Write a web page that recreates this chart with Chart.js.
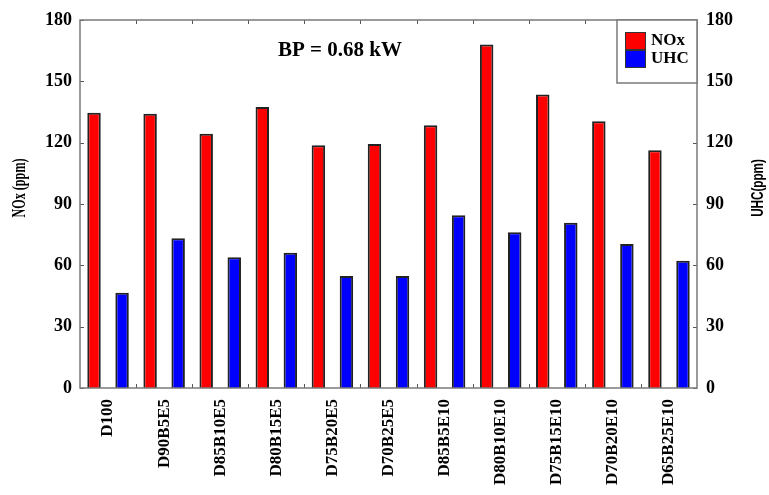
<!DOCTYPE html>
<html>
<head>
<meta charset="utf-8">
<script src="https://cdn.jsdelivr.net/npm/chart.js@4/dist/chart.umd.min.js"></script>
<style>
  html, body { margin: 0; padding: 0; background: #ffffff; }
  #wrap { width: 769px; height: 495px; }
</style>
</head>
<body>
<div id="wrap"><canvas id="c" width="769" height="495"></canvas></div>
<script>
// Fuel blends
const categories = ['D100', 'D90B5E5', 'D85B10E5', 'D80B15E5', 'D75B20E5', 'D70B25E5',
                    'D85B5E10', 'D80B10E10', 'D75B15E10', 'D70B20E10', 'D65B25E10'];
// Emissions at BP = 0.68 kW (ppm)
const noxValues = [134.6, 134.2, 124.4, 137.5, 118.7, 119.4, 128.5, 168.0, 143.5, 130.5, 116.3];
const uhcValues = [46.6, 73.2, 63.9, 66.2, 54.8, 54.8, 84.5, 76.2, 80.8, 70.4, 62.3];
// Axis ticks (both axes share the same range)
const yTicks = [0, 30, 60, 90, 120, 150, 180];

const SERIF = '"Liberation Serif", "Times New Roman", serif';
const SANS = '"Liberation Sans", Arial, sans-serif';

const decorations = {
  id: 'decorations',
  afterDraw(chart) {
    const ctx = chart.ctx;
    const a = chart.chartArea;
    const x = chart.scales.x, yl = chart.scales.y, yr = chart.scales.y1;
    ctx.save();

    // inward tick marks
    ctx.strokeStyle = '#555';
    ctx.lineWidth = 1;
    ctx.beginPath();
    yTicks.forEach(v => {
      const py = Math.round(yl.getPixelForValue(v)) + 0.5;
      ctx.moveTo(a.left, py); ctx.lineTo(a.left + 4, py);
      const ry = Math.round(yr.getPixelForValue(v)) + 0.5;
      ctx.moveTo(a.right, ry); ctx.lineTo(a.right - 4, ry);
    });
    for (let i = 1; i < categories.length; i++) {
      const px = Math.round((x.getPixelForValue(i - 1) + x.getPixelForValue(i)) / 2) + 0.5;
      ctx.moveTo(px, a.bottom); ctx.lineTo(px, a.bottom - 4);
      ctx.moveTo(px, a.top); ctx.lineTo(px, a.top + 4);
    }
    ctx.stroke();

    // frame
    ctx.strokeStyle = '#7a7a7a';
    ctx.lineWidth = 1.5;
    ctx.strokeRect(a.left, a.top, a.right - a.left, a.bottom - a.top);

    // annotation
    ctx.fillStyle = '#000';
    ctx.font = 'bold 21px ' + SERIF;
    ctx.textAlign = 'left';
    ctx.textBaseline = 'middle';
    ctx.fillText('BP = 0.68 kW', 278, 51);

    // axis titles
    ctx.save();
    ctx.translate(20, 188);
    ctx.rotate(-Math.PI / 2);
    ctx.scale(0.64, 1);
    ctx.font = 'bold 19px ' + SERIF;
    ctx.textAlign = 'center';
    ctx.fillText('NOx (ppm)', 0, 0);
    ctx.restore();

    ctx.save();
    ctx.translate(759, 188);
    ctx.rotate(-Math.PI / 2);
    ctx.scale(0.73, 1);
    ctx.font = 'bold 16px ' + SANS;
    ctx.textAlign = 'center';
    ctx.fillText('UHC(ppm)', 0, 0);
    ctx.restore();

    // legend box
    const lx = 617, ly = a.top, lw = a.right - 617, lh = 63;
    ctx.fillStyle = '#fff';
    ctx.fillRect(lx, ly, lw, lh);
    ctx.strokeStyle = '#7a7a7a';
    ctx.lineWidth = 1.5;
    ctx.strokeRect(lx, ly, lw, lh);
    chart.data.datasets.forEach((ds, i) => {
      const sy = 32 + i * 18;
      ctx.fillStyle = ds.backgroundColor;
      ctx.fillRect(625, sy, 21, 18);
      ctx.strokeStyle = '#333';
      ctx.lineWidth = 1;
      ctx.strokeRect(625.5, sy + 0.5, 20, 17);
      ctx.fillStyle = '#000';
      ctx.font = 'bold 17px ' + SERIF;
      ctx.textAlign = 'left';
      ctx.textBaseline = 'middle';
      ctx.fillText(ds.label, 651, sy + 9);
    });
    ctx.restore();
  }
};

const tickFont = { family: SERIF, size: 18, weight: 'bold' };

new Chart(document.getElementById('c'), {
  type: 'bar',
  data: {
    labels: categories,
    datasets: [
      { label: 'NOx', data: noxValues, yAxisID: 'y', backgroundColor: '#ff0000',
        borderColor: '#222', borderWidth: 2 },
      { label: 'UHC', data: uhcValues, yAxisID: 'y1', backgroundColor: '#0000ff',
        borderColor: '#222', borderWidth: 2 }
    ]
  },
  options: {
    responsive: false,
    animation: false,
    devicePixelRatio: 1,
    layout: { padding: { top: 20, left: 0, right: 0, bottom: 0 } },
    datasets: { bar: { categoryPercentage: 1.0, barPercentage: 0.48 } },
    plugins: { legend: { display: false }, tooltip: { enabled: false } },
    scales: {
      x: {
        offset: true,
        grid: { display: false, drawTicks: false },
        border: { display: false },
        ticks: { color: '#000', font: { family: SERIF, size: 17, weight: 'bold' },
                 minRotation: 90, maxRotation: 90, padding: 11, autoSkip: false },
        afterFit(s) { s.height = 107; }
      },
      y: {
        position: 'left', min: 0, max: 180,
        grid: { display: false, drawTicks: false },
        border: { display: false },
        afterBuildTicks(s) { s.ticks = yTicks.map(v => ({ value: v })); },
        ticks: { color: '#000', font: tickFont, padding: 8 },
        afterFit(s) { s.width = 80; }
      },
      y1: {
        position: 'right', min: 0, max: 180,
        grid: { display: false, drawTicks: false },
        border: { display: false },
        afterBuildTicks(s) { s.ticks = yTicks.map(v => ({ value: v })); },
        ticks: { color: '#000', font: tickFont, padding: 9 },
        afterFit(s) { s.width = 72; }
      }
    }
  },
  plugins: [decorations]
});
</script>
</body>
</html>
